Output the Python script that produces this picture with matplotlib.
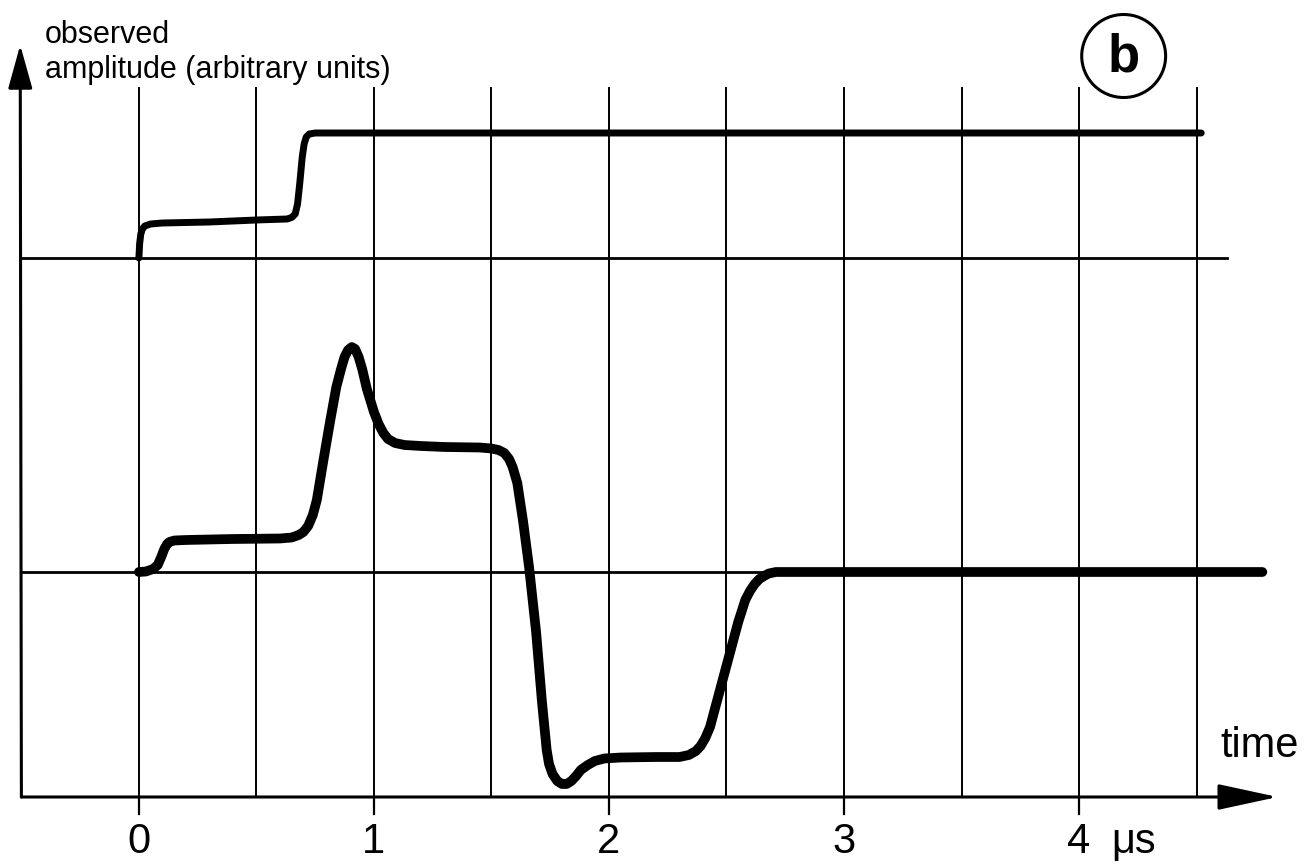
import matplotlib.pyplot as plt
from matplotlib.patches import Ellipse

plt.rcParams['font.family'] = ['Liberation Sans', 'DejaVu Sans']

# time axis (microseconds) and arbitrary amplitude units
grid_x = [0, 0.5, 1, 1.5, 2, 2.5, 3, 3.5, 4, 4.5]
tick_x = [0, 1, 2, 3, 4]
tick_labels = ["0", "1", "2", "3", "4"]

# upper trace (baseline 3.14)
upper_t = [0.0, 0.003, 0.008, 0.015, 0.025, 0.05, 0.1, 0.3, 0.5, 0.63, 0.65, 0.665, 0.675,
           0.685, 0.695, 0.703, 0.712, 0.725, 0.75, 4.52]
upper_y = [3.14, 3.28, 3.38, 3.43, 3.46, 3.48, 3.49, 3.50, 3.52, 3.53, 3.545, 3.58, 3.68,
           3.90, 4.15, 4.28, 4.35, 4.38, 4.39, 4.39]

# lower trace (baseline 0)
lower_t = [0.0, 0.03, 0.06, 0.08, 0.095, 0.108, 0.12, 0.13, 0.15, 0.2, 0.4, 0.6, 0.65, 0.68,
           0.70, 0.72, 0.74, 0.757, 0.786, 0.813, 0.84, 0.86, 0.875, 0.89, 0.906, 0.92, 0.935,
           0.95, 0.97, 1.0, 1.02, 1.04, 1.06, 1.09, 1.13, 1.2, 1.3, 1.45, 1.5, 1.53, 1.555,
           1.575, 1.59, 1.60, 1.61, 1.635, 1.66, 1.69, 1.715, 1.735, 1.745, 1.76, 1.78, 1.80,
           1.82, 1.84, 1.86, 1.88, 1.91, 1.94, 1.98, 2.05, 2.2, 2.30, 2.34, 2.37, 2.39, 2.41,
           2.43, 2.47, 2.51, 2.55, 2.58, 2.60, 2.62, 2.64, 2.66, 2.68, 2.71, 4.78]
lower_y = [0.0, 0.005, 0.03, 0.07, 0.15, 0.23, 0.28, 0.30, 0.315, 0.32, 0.33, 0.335, 0.345, 0.37,
           0.40, 0.46, 0.57, 0.72, 1.13, 1.50, 1.85, 2.03, 2.15, 2.22, 2.25, 2.23, 2.15,
           2.03, 1.83, 1.60, 1.48, 1.39, 1.33, 1.29, 1.27, 1.26, 1.25, 1.245, 1.235, 1.22, 1.19,
           1.13, 1.05, 0.97, 0.89, 0.50, 0.05, -0.60, -1.30, -1.78, -1.92, -2.02, -2.09, -2.12,
           -2.12, -2.09, -2.04, -1.98, -1.93, -1.89, -1.865, -1.855, -1.85, -1.85, -1.83, -1.79, -1.74, -1.66,
           -1.55, -1.20, -0.85, -0.50, -0.28, -0.19, -0.12, -0.07, -0.04, -0.015, 0.0, 0.0]

fig = plt.figure(figsize=(13.07, 8.65), dpi=100)
ax = fig.add_axes([0, 0, 1, 1])
ax.set_xlim(-0.591, 4.97)
ax.set_ylim(-2.93, 5.72)
ax.axis('off')

x_axis_y = -2.25
grid_top = 4.84

# vertical grid lines and tick marks
for gx in grid_x:
    ax.plot([gx, gx], [x_axis_y, grid_top], color='black', lw=1.4)
for tx in tick_x:
    ax.plot([tx, tx], [x_axis_y - 0.17, x_axis_y], color='black', lw=1.6)

# baselines
ax.plot([-0.5, 4.63], [3.14, 3.14], color='black', lw=2.0)
ax.plot([-0.5, 4.78], [0, 0], color='black', lw=2.0)

# axes with arrows
ax.annotate('', xy=(4.845, x_axis_y), xytext=(-0.5, x_axis_y),
            arrowprops=dict(arrowstyle='-|>,head_length=3.7,head_width=0.8', lw=2.2,
                            color='black', shrinkA=0, shrinkB=0))
ax.annotate('', xy=(-0.505, 5.27), xytext=(-0.5, x_axis_y),
            arrowprops=dict(arrowstyle='-|>,head_length=2.7,head_width=0.75', lw=2.2,
                            color='black', shrinkA=0, shrinkB=0))

# traces
ax.plot(upper_t, upper_y, color='black', lw=5, solid_capstyle='round', solid_joinstyle='round')
ax.plot(lower_t, lower_y, color='black', lw=7, solid_capstyle='round', solid_joinstyle='round')

# labels
for tx, lab in zip(tick_x, tick_labels):
    ax.text(tx, -2.81, lab, ha='center', va='baseline', fontsize=30)
ax.text(4.23, -2.81, "μs", ha='center', va='baseline', fontsize=30)
ax.text(4.77, -1.85, "time", ha='center', va='baseline', fontsize=30)
ax.text(-0.4, 5.29, "observed", ha='left', va='baseline', fontsize=22)
ax.text(-0.4, 4.94, "amplitude (arbitrary units)", ha='left', va='baseline', fontsize=22)

# circled panel letter
ax.add_patch(Ellipse((4.19, 5.16), 0.357, 0.83, fill=False, lw=2.2, color='black'))
ax.text(4.19, 5.00, "b", ha='center', va='baseline', fontsize=38, fontweight='bold')

fig.savefig("out.png", dpi=100)
